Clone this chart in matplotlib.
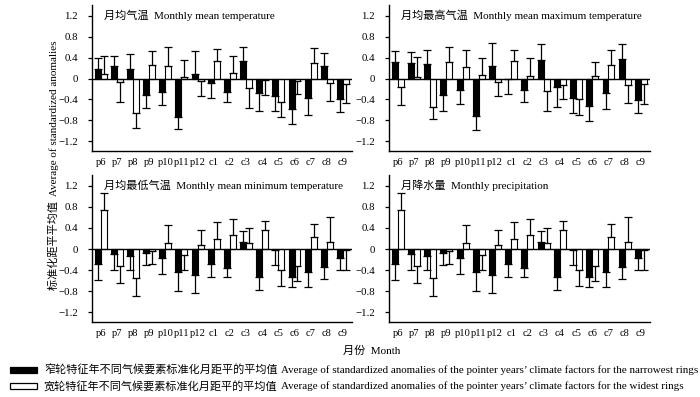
import matplotlib
matplotlib.use("Agg")
import matplotlib.pyplot as plt
from matplotlib.patches import Rectangle
import numpy as np

FAM = ['Liberation Serif', 'Noto Sans CJK SC', 'DejaVu Sans']
plt.rcParams['font.family'] = FAM
plt.rcParams['axes.unicode_minus'] = True

months = ['p6', 'p7', 'p8', 'p9', 'p10', 'p11', 'p12', 'c1', 'c2', 'c3',
          'c4', 'c5', 'c6', 'c7', 'c8', 'c9']

titles = ['月均气温  Monthly mean temperature',
          '月均最高气温  Monthly mean maximum temperature',
          '月均最低气温  Monthly mean minimum temperature',
          '月降水量  Monthly precipitation']

# Monthly mean temperature
t_narrow = [0.19, 0.23, 0.19, -0.31, -0.25, -0.73, 0.08, -0.09, -0.26, 0.34, -0.27, -0.33, -0.59, -0.37, 0.24, -0.40]
t_narrow_err = [0.20, 0.20, 0.27, 0.26, 0.26, 0.23, 0.44, 0.29, 0.19, 0.26, 0.35, 0.29, 0.27, 0.32, 0.24, 0.24]
t_wide = [0.09, -0.07, -0.66, 0.25, 0.23, 0.02, -0.04, 0.34, 0.11, -0.18, -0.03, -0.45, -0.05, 0.30, -0.08, -0.11]
t_wide_err = [0.34, 0.38, 0.28, 0.28, 0.37, 0.34, 0.29, 0.22, 0.32, 0.38, 0.29, 0.28, 0.25, 0.29, 0.34, 0.36]

# Monthly mean maximum temperature
tmax_narrow = [0.32, 0.30, 0.27, -0.32, -0.21, -0.72, 0.24, -0.01, -0.21, 0.36, -0.17, -0.37, -0.53, -0.27, 0.38, -0.41]
tmax_narrow_err = [0.20, 0.21, 0.28, 0.30, 0.28, 0.26, 0.44, 0.29, 0.23, 0.30, 0.37, 0.29, 0.28, 0.32, 0.28, 0.25]
tmax_wide = [-0.16, 0.03, -0.54, 0.31, 0.22, 0.06, -0.07, 0.34, 0.05, -0.24, -0.12, -0.39, 0.04, 0.25, -0.13, -0.11]
tmax_wide_err = [0.34, 0.38, 0.24, 0.29, 0.33, 0.34, 0.27, 0.21, 0.34, 0.38, 0.28, 0.31, 0.27, 0.30, 0.34, 0.37]

# Monthly mean minimum temperature
tmin_narrow = [-0.29, -0.10, -0.14, -0.08, -0.17, -0.43, -0.50, -0.29, -0.36, 0.14, -0.53, -0.01, -0.53, -0.43, -0.34, -0.17]
tmin_narrow_err = [0.29, 0.29, 0.25, 0.23, 0.31, 0.36, 0.33, 0.25, 0.17, 0.20, 0.24, 0.29, 0.20, 0.30, 0.23, 0.23]
tmin_wide = [0.75, -0.32, -0.55, -0.04, 0.12, -0.11, 0.08, 0.19, 0.27, 0.11, 0.36, -0.39, -0.32, 0.22, 0.13, -0.01]
tmin_wide_err = [0.31, 0.33, 0.34, 0.25, 0.34, 0.29, 0.29, 0.32, 0.30, 0.29, 0.18, 0.32, 0.29, 0.26, 0.48, 0.39]

# Monthly precipitation
p_narrow = [-0.29, -0.10, -0.14, -0.08, -0.17, -0.43, -0.50, -0.29, -0.36, 0.14, -0.53, -0.01, -0.53, -0.43, -0.34, -0.17]
p_narrow_err = [0.29, 0.29, 0.25, 0.23, 0.31, 0.36, 0.33, 0.25, 0.17, 0.20, 0.24, 0.29, 0.20, 0.30, 0.23, 0.23]
p_wide = [0.75, -0.32, -0.55, -0.04, 0.12, -0.11, 0.08, 0.19, 0.27, 0.11, 0.36, -0.39, -0.32, 0.22, 0.13, -0.01]
p_wide_err = [0.31, 0.33, 0.34, 0.25, 0.34, 0.29, 0.29, 0.32, 0.30, 0.29, 0.18, 0.32, 0.29, 0.26, 0.48, 0.39]

yticks = [1.2, 0.8, 0.4, 0, -0.4, -0.8, -1.2]
yticklabels = ['1.2', '0.8', '0.4', '0', '\u22120.4', '\u22120.8', '\u22121.2']

legend_cn = ['窄轮特征年不同气候要素标准化月距平的平均值',
             '宽轮特征年不同气候要素标准化月距平的平均值']
legend_en = ['Average of standardized anomalies of the pointer years\u2019 climate factors for the narrowest rings',
             'Average of standardized anomalies of the pointer years\u2019 climate factors for the widest rings']

panels = [(t_narrow, t_narrow_err, t_wide, t_wide_err),
          (tmax_narrow, tmax_narrow_err, tmax_wide, tmax_wide_err),
          (tmin_narrow, tmin_narrow_err, tmin_wide, tmin_wide_err),
          (p_narrow, p_narrow_err, p_wide, p_wide_err)]

W, H = 700, 397
fig = plt.figure(figsize=(7.0, 3.97), dpi=100)

def fx(px):
    return px / W

def fy(py):
    return 1 - py / H

boxes = [(92, 352, 5, 151), (389, 650, 5, 151), (92, 352, 175, 322), (389, 650, 175, 322)]

bw = 0.37
x = np.arange(len(months))

def one_sided(vals, errs):
    vals = np.array(vals)
    errs = np.array(errs)
    lower = np.where(vals < 0, errs, 0)
    upper = np.where(vals >= 0, errs, 0)
    return np.vstack([lower, upper])

for i, (box, title, data) in enumerate(zip(boxes, titles, panels)):
    l, r, t, b = box
    ax = fig.add_axes([fx(l), fy(b), fx(r) - fx(l), fy(t) - fy(b)])
    nv, ne, wv, we = data
    ax.bar(x - bw / 2, nv, bw, color='black', edgecolor='black', linewidth=0.8, zorder=2)
    ax.bar(x + bw / 2, wv, bw, color='white', edgecolor='black', linewidth=0.8, zorder=2)
    ax.errorbar(x - bw / 2, nv, yerr=one_sided(nv, ne), fmt='none', ecolor='black',
                elinewidth=0.9, capsize=2.6, capthick=0.9, zorder=3)
    ax.errorbar(x + bw / 2, wv, yerr=one_sided(wv, we), fmt='none', ecolor='black',
                elinewidth=0.9, capsize=2.6, capthick=0.9, zorder=3)
    ax.axhline(0, color='black', linewidth=1.0, zorder=4)
    ax.set_xlim(-0.54, len(months) - 1 + 0.56)
    ax.set_ylim(-1.385, 1.405)
    ax.set_yticks(yticks)
    ax.set_yticklabels(yticklabels, fontsize=7.8)
    ax.set_xticks(x)
    ax.set_xticklabels(months, fontsize=7.6)
    ax.tick_params(axis='x', length=0, pad=5)
    ax.tick_params(axis='y', direction='out', length=3, width=0.9, pad=7)
    for s in ['top', 'right']:
        ax.spines[s].set_visible(False)
    for s in ['left', 'bottom']:
        ax.spines[s].set_linewidth(1.0)
    ax.text(0.045, 0.93, title, transform=ax.transAxes, fontsize=8,
            ha='left', va='center', family=FAM)

fig.text(fx(53), fy(165), '标准化距平平均值  Average of standardized anomalies',
         rotation=90, ha='center', va='center', fontsize=8, family=FAM)
fig.text(fx(372), fy(351), '月份  Month', ha='center', va='center', fontsize=8, family=FAM)

for j, fc in enumerate(['black', 'white']):
    yc = [370, 386][j]
    fig.add_artist(Rectangle((fx(10), fy(yc + 3)), fx(37) - fx(10), fy(yc - 3) - fy(yc + 3),
                             facecolor=fc, edgecolor='black', linewidth=0.9,
                             transform=fig.transFigure))
    fig.text(fx(44), fy(yc), legend_cn[j], ha='left', va='center', fontsize=8.0, family=FAM)
    fig.text(fx(281), fy(yc), legend_en[j], ha='left', va='center', fontsize=7.9, family=FAM)

fig.savefig('out.png', dpi=100)
